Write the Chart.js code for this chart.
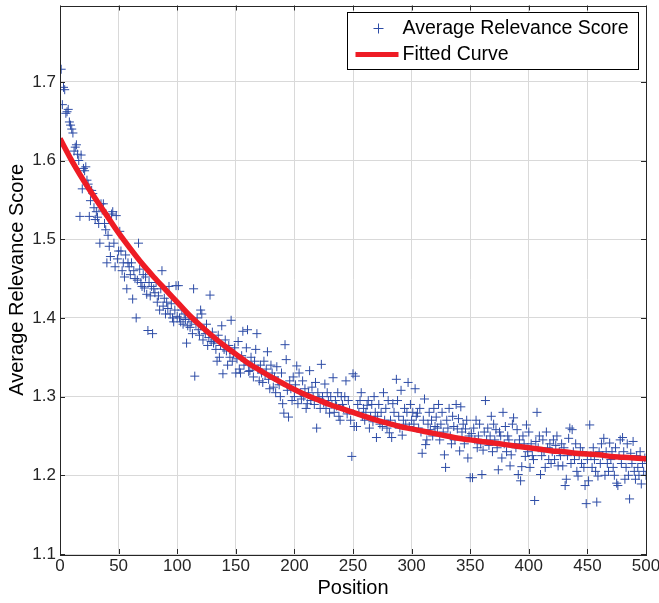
<!DOCTYPE html>
<html lang="en">
<head>
    <meta charset="UTF-8">
    <title>Average Relevance Score vs Position</title>
    <script src="https://cdn.jsdelivr.net/npm/chart.js"></script>
    <style>
        html, body { margin: 0; padding: 0; background: #fff; }
        #wrap { width: 659px; height: 603px; }
    </style>
</head>
<body>
    <div id="wrap"><canvas id="relevanceChart" width="659" height="603"></canvas></div>
    <script>
        // average relevance score for positions 1..500
        var scores = [
            1.716, 1.671, 1.693, 1.690, 1.660, 1.662, 1.665, 1.649, 1.645, 1.640,
            1.635, 1.612, 1.617, 1.620, 1.608, 1.600, 1.529, 1.607, 1.564, 1.590,
            1.587, 1.592, 1.575, 1.570, 1.529, 1.549, 1.562, 1.558, 1.540, 1.525,
            1.535, 1.528, 1.520, 1.495, 1.545, 1.537, 1.545, 1.520, 1.512, 1.470,
            1.505, 1.491, 1.478, 1.532, 1.535, 1.495, 1.465, 1.530, 1.475, 1.485,
            1.510, 1.485, 1.460, 1.470, 1.452, 1.480, 1.437, 1.470, 1.465, 1.455,
            1.470, 1.424, 1.460, 1.450, 1.400, 1.448, 1.495, 1.462, 1.445, 1.440,
            1.455, 1.438, 1.452, 1.430, 1.384, 1.445, 1.428, 1.440, 1.380, 1.437,
            1.432, 1.445, 1.420, 1.428, 1.410, 1.437, 1.460, 1.415, 1.425, 1.405,
            1.420, 1.412, 1.440, 1.405, 1.418, 1.400, 1.395, 1.410, 1.441, 1.402,
            1.441, 1.400, 1.395, 1.410, 1.392, 1.405, 1.398, 1.368, 1.390, 1.400,
            1.388, 1.395, 1.380, 1.437, 1.326, 1.392, 1.400, 1.385, 1.378, 1.410,
            1.405, 1.372, 1.385, 1.380, 1.392, 1.365, 1.375, 1.429, 1.370, 1.382,
            1.368, 1.372, 1.360, 1.345, 1.378, 1.350, 1.365, 1.390, 1.329, 1.360,
            1.372, 1.358, 1.340, 1.365, 1.350, 1.397, 1.345, 1.355, 1.362, 1.330,
            1.348, 1.370, 1.335, 1.330, 1.352, 1.383, 1.340, 1.345, 1.362, 1.385,
            1.332, 1.333, 1.350, 1.338, 1.325, 1.345, 1.360, 1.380, 1.335, 1.320,
            1.340, 1.330, 1.318, 1.345, 1.328, 1.335, 1.357, 1.322, 1.310, 1.340,
            1.330, 1.312, 1.325, 1.305, 1.338, 1.320, 1.315, 1.300, 1.330, 1.291,
            1.279, 1.366, 1.347, 1.308, 1.274, 1.320, 1.310, 1.295, 1.325, 1.300,
            1.315, 1.339, 1.291, 1.330, 1.305, 1.297, 1.320, 1.300, 1.310, 1.285,
            1.291, 1.305, 1.333, 1.295, 1.312, 1.300, 1.290, 1.318, 1.260, 1.305,
            1.298, 1.285, 1.341, 1.300, 1.292, 1.316, 1.285, 1.305, 1.295, 1.279,
            1.300, 1.290, 1.324, 1.280, 1.295, 1.288, 1.305, 1.275, 1.270, 1.300,
            1.290, 1.285, 1.300, 1.320, 1.278, 1.295, 1.283, 1.270, 1.224, 1.329,
            1.262, 1.326, 1.262, 1.290, 1.280, 1.295, 1.305, 1.275, 1.285, 1.270,
            1.280, 1.289, 1.295, 1.260, 1.275, 1.290, 1.268, 1.300, 1.280, 1.248,
            1.275, 1.290, 1.265, 1.280, 1.262, 1.305, 1.270, 1.285, 1.260, 1.295,
            1.254, 1.270, 1.248, 1.291, 1.280, 1.265, 1.322, 1.295, 1.275, 1.260,
            1.308, 1.251, 1.270, 1.285, 1.265, 1.280, 1.318, 1.262, 1.290, 1.270,
            1.280, 1.265, 1.310, 1.275, 1.279, 1.260, 1.285, 1.255, 1.228, 1.270,
            1.297, 1.239, 1.245, 1.265, 1.280, 1.258, 1.270, 1.250, 1.285, 1.262,
            1.274, 1.260, 1.290, 1.245, 1.265, 1.280, 1.255, 1.226, 1.210, 1.270,
            1.260, 1.285, 1.250, 1.240, 1.275, 1.262, 1.245, 1.290, 1.259, 1.272,
            1.231, 1.287, 1.255, 1.265, 1.240, 1.259, 1.270, 1.222, 1.250, 1.197,
            1.253, 1.197, 1.260, 1.245, 1.270, 1.235, 1.250, 1.265, 1.240, 1.201,
            1.232, 1.255, 1.295, 1.245, 1.260, 1.238, 1.250, 1.275, 1.230, 1.265,
            1.245, 1.258, 1.235, 1.207, 1.255, 1.250, 1.222, 1.280, 1.240, 1.262,
            1.230, 1.250, 1.245, 1.212, 1.226, 1.265, 1.273, 1.240, 1.235, 1.258,
            1.201, 1.245, 1.193, 1.211, 1.250, 1.240, 1.224, 1.264, 1.230, 1.255,
            1.210, 1.240, 1.225, 1.220, 1.168, 1.243, 1.280, 1.235, 1.250, 1.201,
            1.225, 1.245, 1.230, 1.210, 1.255, 1.235, 1.220, 1.240, 1.215, 1.230,
            1.245, 1.220, 1.238, 1.250, 1.212, 1.230, 1.225, 1.240, 1.212, 1.235,
            1.187, 1.195, 1.225, 1.247, 1.260, 1.215, 1.258, 1.230, 1.220, 1.240,
            1.205, 1.199, 1.225, 1.235, 1.215, 1.230, 1.210, 1.187, 1.164, 1.220,
            1.193, 1.264, 1.225, 1.210, 1.235, 1.220, 1.205, 1.166, 1.199, 1.230,
            1.215, 1.240, 1.225, 1.247, 1.200, 1.230, 1.215, 1.205, 1.241, 1.220,
            1.230, 1.210, 1.200, 1.235, 1.190, 1.187, 1.225, 1.245, 1.215, 1.248,
            1.230, 1.195, 1.210, 1.240, 1.200, 1.170, 1.228, 1.215, 1.243, 1.205,
            1.195, 1.225, 1.210, 1.200, 1.230, 1.189, 1.215, 1.205, 1.222, 1.200
        ];

        // fitted curve, sampled every 10 positions
        var fitX = [0, 10, 20, 30, 40, 50, 60, 70, 80, 90, 100, 110, 120, 130, 140, 150, 160, 170, 180, 190, 200,
                    210, 220, 230, 240, 250, 260, 270, 280, 290, 300, 310, 320, 330, 340, 350, 360, 370, 380, 390, 400,
                    410, 420, 430, 440, 450, 460, 470, 480, 490, 500];
        var fitY = [1.628, 1.600, 1.575, 1.552, 1.530, 1.508, 1.488, 1.469, 1.452, 1.436, 1.420, 1.404, 1.390, 1.377, 1.365, 1.354, 1.343, 1.334, 1.325, 1.317, 1.309,
                    1.302, 1.296, 1.290, 1.285, 1.280, 1.275, 1.270, 1.266, 1.262, 1.259, 1.256, 1.253, 1.250, 1.247, 1.245, 1.243, 1.241, 1.239, 1.237, 1.235,
                    1.233, 1.231, 1.230, 1.228, 1.227, 1.226, 1.224, 1.223, 1.222, 1.221];

        var xTicks = [0, 50, 100, 150, 200, 250, 300, 350, 400, 450, 500];
        var yTicks = [1.1, 1.2, 1.3, 1.4, 1.5, 1.6, 1.7];

        var FONT = '"Liberation Sans", Arial, Helvetica, sans-serif';
        var AXIS_COLOR = '#262626';

        // MATLAB-like box, inward ticks and legend
        var matlabAxes = {
            id: 'matlabAxes',
            afterDraw: function(chart) {
                var ctx = chart.ctx, a = chart.chartArea;
                var xs = chart.scales.x, ys = chart.scales.y;
                ctx.save();
                ctx.strokeStyle = AXIS_COLOR;
                ctx.lineWidth = 1;
                ctx.beginPath();
                xs.ticks.forEach(function(t) {
                    var px = Math.round(xs.getPixelForValue(t.value)) + 0.5;
                    ctx.moveTo(px, a.bottom); ctx.lineTo(px, a.bottom - 5);
                    ctx.moveTo(px, a.top); ctx.lineTo(px, a.top + 5);
                });
                ys.ticks.forEach(function(t) {
                    var py = Math.round(ys.getPixelForValue(t.value)) + 0.5;
                    ctx.moveTo(a.left, py); ctx.lineTo(a.left + 5, py);
                    ctx.moveTo(a.right, py); ctx.lineTo(a.right - 5, py);
                });
                ctx.stroke();
                ctx.strokeRect(Math.round(a.left) + 0.5, Math.round(a.top) + 0.5,
                               Math.round(a.right - a.left), Math.round(a.bottom - a.top));

                // legend
                var ds = chart.data.datasets;
                var bw = 291, bh = 57;
                var bx = Math.round(a.right - 8 - bw) + 0.5, by = Math.round(a.top + 6) + 0.5;
                ctx.fillStyle = '#fff';
                ctx.fillRect(bx, by, bw, bh);
                ctx.strokeStyle = '#000';
                ctx.strokeRect(bx, by, bw, bh);
                ctx.font = '19.5px ' + FONT;
                ctx.fillStyle = '#000';
                ctx.textBaseline = 'middle';
                ctx.textAlign = 'left';
                // scatter entry
                var y1 = by + 16, y2 = by + 42;
                ctx.strokeStyle = ds[1].borderColor;
                ctx.lineWidth = 1;
                ctx.beginPath();
                ctx.moveTo(bx + 26, y1); ctx.lineTo(bx + 36, y1);
                ctx.moveTo(bx + 31, y1 - 5); ctx.lineTo(bx + 31, y1 + 5);
                ctx.stroke();
                ctx.fillText(ds[1].label, bx + 55, y1);
                // fit entry
                ctx.strokeStyle = ds[0].borderColor;
                ctx.lineWidth = 5;
                ctx.beginPath();
                ctx.moveTo(bx + 8, y2); ctx.lineTo(bx + 51, y2);
                ctx.stroke();
                ctx.fillText(ds[0].label, bx + 55, y2);
                ctx.restore();
            }
        };

        var ctx = document.getElementById('relevanceChart').getContext('2d');
        var relevanceChart = new Chart(ctx, {
            type: 'scatter',
            data: {
                datasets: [{
                    type: 'line',
                    label: 'Fitted Curve',
                    data: fitX.map(function(x, i) { return { x: x, y: fitY[i] }; }),
                    borderColor: '#ee1c25',
                    borderWidth: 5.5,
                    pointRadius: 0,
                    fill: false,
                    cubicInterpolationMode: 'monotone',
                    order: 0
                }, {
                    label: 'Average Relevance Score',
                    data: scores.map(function(s, i) { return { x: i + 1, y: s }; }),
                    pointStyle: 'cross',
                    pointRadius: 4.5,
                    borderWidth: 1,
                    borderColor: '#2d4ca6',
                    backgroundColor: '#2d4ca6',
                    order: 1
                }]
            },
            options: {
                responsive: false,
                animation: false,
                devicePixelRatio: 1,
                layout: { padding: { top: 3, right: 13, left: 0, bottom: 0 } },
                plugins: {
                    legend: { display: false },
                    tooltip: { enabled: false }
                },
                scales: {
                    x: {
                        type: 'linear',
                        min: 0,
                        max: 500,
                        afterBuildTicks: function(s) { s.ticks = xTicks.map(function(v) { return { value: v }; }); },
                        afterFit: function(s) { s.height = 49; s.paddingLeft = 0; s.paddingRight = 0; },
                        grid: { color: '#d9d9d9', lineWidth: 1, drawTicks: false },
                        border: { display: false },
                        ticks: {
                            color: AXIS_COLOR,
                            font: { family: FONT, size: 17 },
                            padding: 2,
                            maxRotation: 0
                        },
                        title: {
                            display: true,
                            text: 'Position',
                            color: '#000',
                            font: { family: FONT, size: 20 },
                            padding: { top: 0, bottom: 3 }
                        }
                    },
                    y: {
                        min: 1.1,
                        max: 1.797,
                        afterBuildTicks: function(s) { s.ticks = yTicks.map(function(v) { return { value: v }; }); },
                        afterFit: function(s) { s.width = 60; s.paddingTop = 0; s.paddingBottom = 0; },
                        grid: { color: '#d9d9d9', lineWidth: 1, drawTicks: false },
                        border: { display: false },
                        ticks: {
                            color: AXIS_COLOR,
                            font: { family: FONT, size: 17 },
                            padding: 4,
                            callback: function(v) { return v.toFixed(1); }
                        },
                        title: {
                            display: true,
                            text: 'Average Relevance Score',
                            color: '#000',
                            font: { family: FONT, size: 20 },
                            padding: { top: 5, bottom: 0 }
                        }
                    }
                }
            },
            plugins: [matlabAxes]
        });
    </script>
</body>
</html>
